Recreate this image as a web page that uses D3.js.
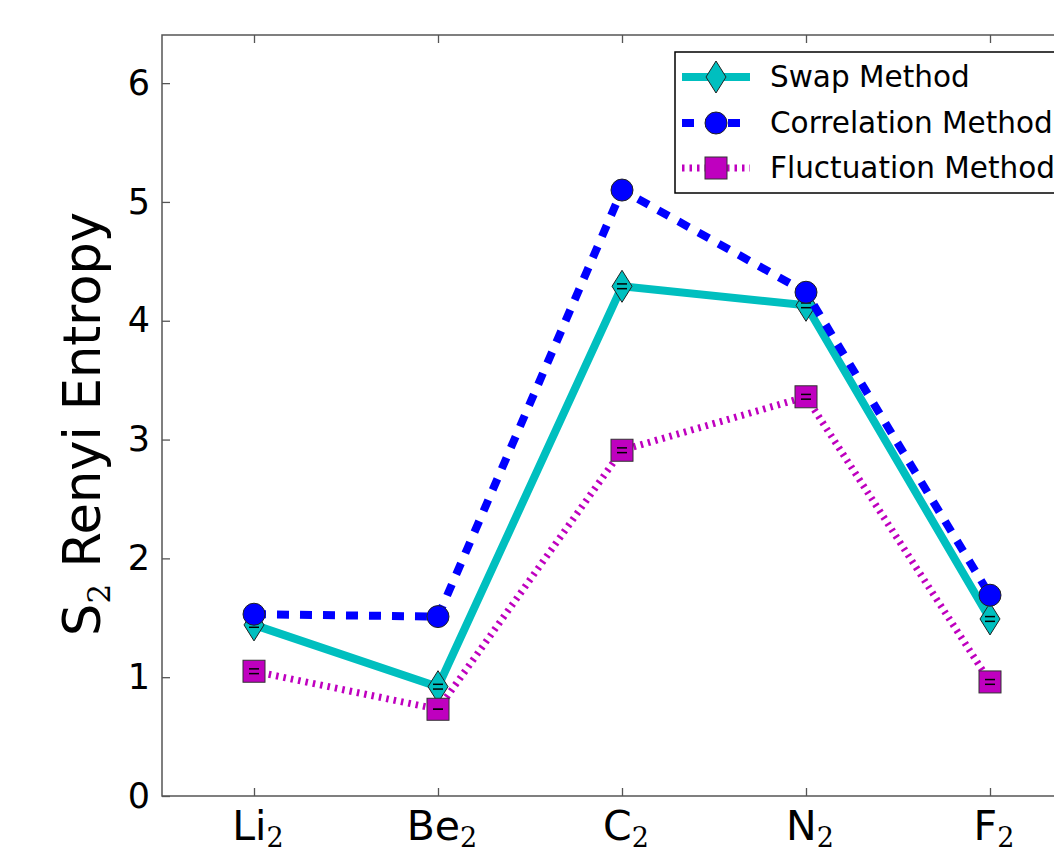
<!DOCTYPE html>
<html>
<head>
<meta charset="utf-8">
<script src="https://cdn.jsdelivr.net/npm/d3@7"></script>
<style>
  body { margin: 0; background: #fff; }
  svg { display: block; font-family: "DejaVu Sans", sans-serif; }
</style>
</head>
<body>
<div id="chart"></div>
<script>
// molecules on the x axis (element + subscript)
var molecules = ['Li', 'Be', 'C', 'N', 'F'];
var subscript = '2';
var yTicks = [0, 1, 2, 3, 4, 5, 6];

var swapVals = [1.44, 0.92, 4.29, 4.13, 1.49];
var swapErr = [0.02, 0.02, 0.02, 0.02, 0.02];
var corrVals = [1.53, 1.51, 5.10, 4.24, 1.69];
var fluctVals = [1.05, 0.73, 2.91, 3.36, 0.96];
var fluctErr = [0.02, 0.0, 0.02, 0.02, 0.02];

var seriesNames = ['Swap Method', 'Correlation Method', 'Fluctuation Method'];

var W = 1054, H = 849;
var svg = d3.select('#chart').append('svg')
    .attr('width', W)
    .attr('height', H);

var pLeft = 162, pRight = 1082, pTop = 35, pBottom = 796;

var xScale = d3.scaleLinear()
    .domain([-0.5, 4.5])
    .range([pLeft, pRight]);

var yScale = d3.scaleLinear()
    .domain([0, 6.405])
    .range([pBottom, pTop]);

// frame
svg.append('rect')
    .attr('x', pLeft).attr('y', pTop)
    .attr('width', pRight - pLeft).attr('height', pBottom - pTop)
    .attr('fill', 'none')
    .attr('stroke', '#555')
    .attr('stroke-width', 1.5);

// y axis, ticks inward
var yAxis = d3.axisLeft(yScale)
    .tickValues(yTicks)
    .tickSizeInner(-8)
    .tickSizeOuter(0)
    .tickPadding(12)
    .tickFormat(d3.format('d'));
var gy = svg.append('g')
    .attr('transform', 'translate(' + pLeft + ',0)')
    .call(yAxis);
gy.select('.domain').remove();
gy.selectAll('.tick line').attr('stroke', '#555').attr('stroke-width', 1.3);
gy.selectAll('.tick text')
    .attr('font-size', 35)
    .attr('font-family', '"DejaVu Sans", sans-serif')
    .attr('fill', '#000');

// x axis bottom + top ticks
var xAxis = d3.axisBottom(xScale)
    .tickValues(d3.range(molecules.length))
    .tickSizeInner(-8)
    .tickSizeOuter(0)
    .tickFormat('');
var gx = svg.append('g')
    .attr('transform', 'translate(0,' + pBottom + ')')
    .call(xAxis);
gx.select('.domain').remove();
gx.selectAll('.tick line').attr('stroke', '#555').attr('stroke-width', 1.3);

var xTop = d3.axisTop(xScale)
    .tickValues(d3.range(molecules.length))
    .tickSizeInner(-8)
    .tickSizeOuter(0)
    .tickFormat('');
var gxt = svg.append('g')
    .attr('transform', 'translate(0,' + pTop + ')')
    .call(xTop);
gxt.select('.domain').remove();
gxt.selectAll('.tick line').attr('stroke', '#555').attr('stroke-width', 1.3);

// x tick labels with subscripts
var xl = svg.append('g').selectAll('text')
    .data(molecules)
    .enter()
    .append('text')
    .attr('x', function(d, i){ return xScale(i) + 4; })
    .attr('y', 840)
    .attr('text-anchor', 'middle')
    .attr('font-size', 41)
    .attr('fill', '#000');
xl.append('tspan').text(function(d){ return d; });
xl.append('tspan')
    .attr('dy', 7)
    .attr('font-size', 27)
    .attr('font-family', '"DejaVu Serif", serif')
    .text(subscript);

// y label
var yl = svg.append('text')
    .attr('transform', 'translate(100,424) rotate(-90)')
    .attr('text-anchor', 'middle')
    .attr('font-size', 51)
    .attr('fill', '#000');
yl.append('tspan').text('S');
yl.append('tspan').attr('dy', 10).attr('font-size', 31)
    .attr('font-family', '"DejaVu Serif", serif').text(subscript);
yl.append('tspan').attr('dy', -10).text(' Renyi Entropy');

var line = d3.line()
    .x(function(d, i){ return xScale(i); })
    .y(function(d){ return yScale(d); });

var plot = svg.append('g');

// markers
function diamond(g, x, y, fill) {
    g.append('path')
        .attr('d', 'M' + x + ',' + (y - 16) + 'L' + (x + 10) + ',' + y + 'L' + x + ',' + (y + 16) + 'L' + (x - 10) + ',' + y + 'Z')
        .attr('fill', fill)
        .attr('stroke', '#222')
        .attr('stroke-width', 1);
}
function circle(g, x, y, fill) {
    g.append('circle')
        .attr('cx', x).attr('cy', y).attr('r', 11)
        .attr('fill', fill)
        .attr('stroke', '#222')
        .attr('stroke-width', 1);
}
function square(g, x, y, fill) {
    g.append('rect')
        .attr('x', x - 11).attr('y', y - 11)
        .attr('width', 22).attr('height', 22)
        .attr('fill', fill)
        .attr('stroke', '#333')
        .attr('stroke-width', 1);
}
function errCaps(g, vals, errs) {
    vals.forEach(function(v, i){
        var e = errs[i];
        [v - e, v + e].forEach(function(yy){
            g.append('line')
                .attr('x1', xScale(i) - 5).attr('x2', xScale(i) + 5)
                .attr('y1', yScale(yy)).attr('y2', yScale(yy))
                .attr('stroke', '#000')
                .attr('stroke-width', 1.5);
        });
    });
}

// swap
plot.append('path')
    .attr('d', line(swapVals))
    .attr('fill', 'none')
    .attr('stroke', '#00BFBF')
    .attr('stroke-width', 8);
swapVals.forEach(function(v, i){ diamond(plot, xScale(i), yScale(v), '#00BFBF'); });
errCaps(plot, swapVals, swapErr);

// correlation
plot.append('path')
    .attr('d', line(corrVals))
    .attr('fill', 'none')
    .attr('stroke', '#0000FF')
    .attr('stroke-width', 8)
    .attr('stroke-dasharray', '12,11');
corrVals.forEach(function(v, i){ circle(plot, xScale(i), yScale(v), '#0000FF'); });

// fluctuation
plot.append('path')
    .attr('d', line(fluctVals))
    .attr('fill', 'none')
    .attr('stroke', '#BF00BF')
    .attr('stroke-width', 7)
    .attr('stroke-dasharray', '2.5,5');
fluctVals.forEach(function(v, i){ square(plot, xScale(i), yScale(v), '#BF00BF'); });
errCaps(plot, fluctVals, fluctErr);

// legend
var lg = svg.append('g');
lg.append('rect')
    .attr('x', 675).attr('y', 52)
    .attr('width', 420).attr('height', 141)
    .attr('fill', '#fff')
    .attr('stroke', '#000')
    .attr('stroke-width', 1.5);
var rowY = [77, 123, 168];
var styles = [
    { color: '#00BFBF', dash: null, w: 8, m: diamond },
    { color: '#0000FF', dash: '12,11', w: 8, m: circle },
    { color: '#BF00BF', dash: '2.5,5', w: 7, m: square }
];
styles.forEach(function(s, i){
    var l = lg.append('line')
        .attr('x1', 682).attr('x2', 750)
        .attr('y1', rowY[i]).attr('y2', rowY[i])
        .attr('stroke', s.color)
        .attr('stroke-width', s.w);
    if (s.dash) l.attr('stroke-dasharray', s.dash);
    s.m(lg, 716, rowY[i], s.color);
    lg.append('text')
        .attr('x', 770)
        .attr('y', rowY[i] + 10)
        .attr('font-size', 29.5)
        .attr('fill', '#000')
        .text(seriesNames[i]);
});
</script>
</body>
</html>
